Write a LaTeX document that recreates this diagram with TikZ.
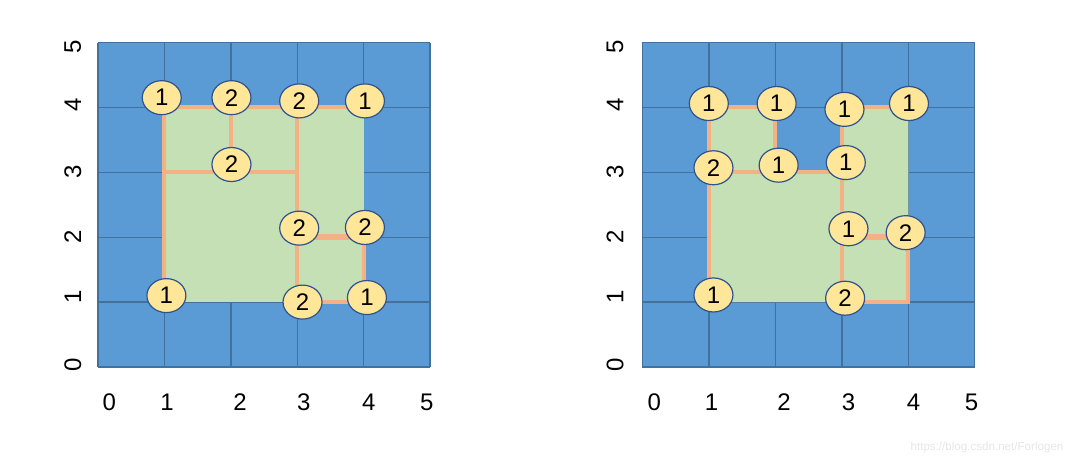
\documentclass[tikz,border=0pt]{standalone}
\usepackage{fontspec}
\setmainfont{Liberation Sans}
\usetikzlibrary{shapes.geometric}
\definecolor{cellblue}{HTML}{5B9BD5}
\definecolor{gridblue}{HTML}{41719C}
\definecolor{regiongreen}{HTML}{C5E0B4}
\definecolor{seamorange}{HTML}{F4B183}
\definecolor{dotyellow}{HTML}{FFE699}
\definecolor{dotrim}{HTML}{2F528F}
\definecolor{markgray}{HTML}{E6E6E6}
\begin{document}
\begin{tikzpicture}[x=0.5pt,y=0.5pt,
	cnt/.style={ellipse,draw=dotrim,line width=0.6pt,fill=dotyellow,minimum width=19.5pt,minimum height=17pt,inner sep=0pt,font=\fontsize{12}{12}\selectfont},
	seam/.style={seamorange,line width=2pt},
	ticklbl/.style={font=\fontsize{12}{12}\selectfont,inner sep=0pt}]
	\useasboundingbox (0,0) rectangle (1080,463);
	% left panel
	\begin{scope}[shift={(98,96)},x=33.2pt,y=32.45pt]
		\fill[cellblue] (0,0) rectangle (5,5);
		\draw[gridblue,line width=0.7pt,step=1] (0,0) grid (5,5);
		\fill[regiongreen] (1,1) rectangle (4,4);
		\draw[seam] (4,4)--(1,4)--(1,1);
		\draw[seam] (2,4)--(2,3) (1,3)--(3,3) (3,4)--(3,1)--(4,1)--(4,2);
		\draw[seam,line width=3pt] (3,2)--(4,2);
		\foreach \t/\p in {0/0.17,1/1.04,2/2.14,3/3.10,4/4.08,5/4.95}{
			\node[ticklbl] (lx\t) at (\p,-0.54) {\t};%Ox
		}
		\foreach \t/\p in {0/0.03,1/1.08,2/2.00,3/3.00,4/4.04,5/4.93}{
			\node[ticklbl,rotate=90] (ly\t) at (-0.38,\p) {\t};%Oy
		}
		\node[cnt] (la14) at (0.96,4.15) {1};
		\node[cnt] (la24) at (2.01,4.15) {2};
		\node[cnt] (la34) at (3.03,4.10) {2};
		\node[cnt] (la44) at (4.02,4.10) {1};
		\node[cnt] (la23) at (2.01,3.12) {2};
		\node[cnt] (la32) at (3.03,2.14) {2};
		\node[cnt] (la42) at (4.02,2.15) {2};
		\node[cnt] (la11) at (1.03,1.10) {1};
		\node[cnt] (la31) at (3.08,1.00) {2};
		\node[cnt] (la41) at (4.05,1.07) {1};
	\end{scope}
	% right panel
	\begin{scope}[shift={(642.3,96)},x=33.25pt,y=32.45pt]
		\fill[cellblue] (0,0) rectangle (5,5);
		\draw[gridblue,line width=0.7pt,step=1] (0,0) grid (5,5);
		\fill[regiongreen] (1,1)--(1,4)--(2,4)--(2,3)--(3,3)--(3,4)--(4,4)--(4,1)--cycle;
		\draw[seam] (2,4)--(1,4)--(1,1);
		\draw[seam] (2,4)--(2,3) (1,3)--(3,3) (4,4)--(3,4)--(3,1)--(4,1)--(4,2);
		\draw[seam,line width=3pt] (3,2)--(4,2);
		\foreach \t/\p in {0/0.18,1/1.04,2/2.13,3/3.10,4/4.08,5/4.95}{
			\node[ticklbl] (rx\t) at (\p,-0.54) {\t};%Ox
		}
		\foreach \t/\p in {0/0.03,1/1.08,2/2.00,3/3.00,4/4.04,5/4.93}{
			\node[ticklbl,rotate=90] (ry\t) at (-0.41,\p) {\t};%Oy
		}
		\node[cnt] (rb14) at (1.00,4.06) {1};
		\node[cnt] (rb24) at (2.02,4.06) {1};
		\node[cnt] (rb34) at (3.04,3.97) {1};
		\node[cnt] (rb44) at (4.01,4.06) {1};
		\node[cnt] (rb13) at (1.07,3.07) {2};
		\node[cnt] (rb23) at (2.05,3.11) {1};
		\node[cnt] (rb33) at (3.06,3.15) {1};
		\node[cnt] (rb32) at (3.10,2.13) {1};
		\node[cnt] (rb42) at (3.96,2.07) {2};
		\node[cnt] (rb11) at (1.07,1.11) {1};
		\node[cnt] (rb31) at (3.05,1.06) {2};
	\end{scope}
	\node[markgray,font=\fontsize{5.8}{6}\selectfont] (mark) at (987,16) {https://blog.csdn.net/Forlogen};
\end{tikzpicture}
\end{document}
